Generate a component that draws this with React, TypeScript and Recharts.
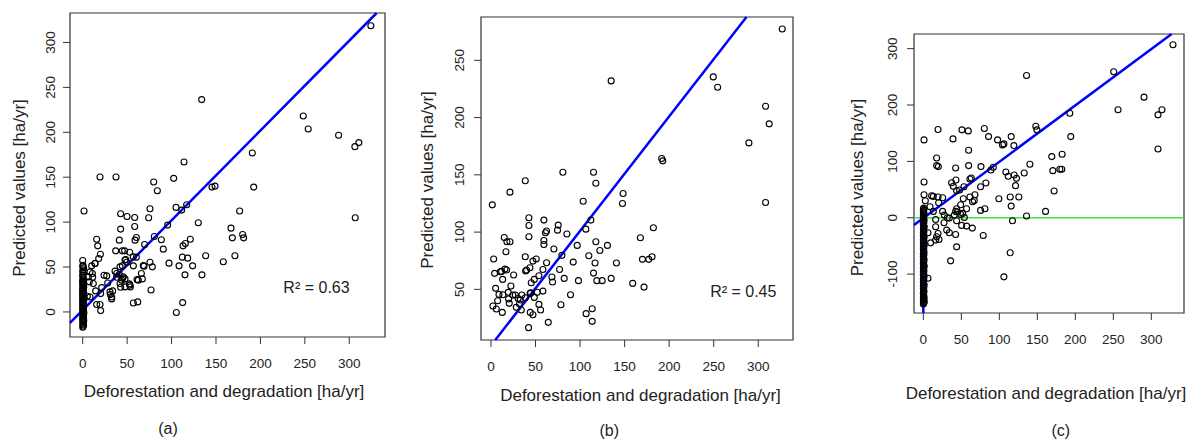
import React from 'react';
import { ScatterChart, Scatter, XAxis, YAxis, ReferenceLine, ReferenceArea } from 'recharts';

const FONT = '"Liberation Sans", Arial, sans-serif';

const obsA: [number, number][] = [
  [324.3, 318.6], [133.9, 236.4], [248.2, 218.2], [253.8, 203.7], [288, 196.7], [306.3, 184], [310.8, 188.5], [306.7, 104.8],
  [190.9, 177], [192.4, 139], [176.6, 112.3], [166.9, 93.3], [168.4, 82.5], [180, 86.2], [181.1, 82.5], [171.3, 62.5], [158.2, 55.8],
  [138.4, 62.5], [134.2, 41.3], [130.1, 99.3], [114, 166.9], [102.4, 148.7], [145.5, 139], [148.9, 140.1], [117, 119.3], [111.4, 113.4],
  [105, 116.4], [121.1, 81], [115.5, 76.2], [112.9, 73.6], [112.1, 61], [118.1, 59.9], [123.7, 51.3], [108.4, 51.3], [115.1, 41.3],
  [97.1, 54.3], [112.5, 10.4], [105.4, -0.7], [95.6, 96.7], [90.7, 69.9], [88.5, 80.3], [79.9, 144.6], [84, 134.9], [80.6, 84],
  [75.7, 114.9], [74.2, 104.8], [69.7, 75.1], [75.7, 55.4], [78.4, 50.2], [76.9, 24.5], [68.2, 51.7], [66, 42.8], [67.1, 36.8],
  [61.1, 36.1], [58.5, 105.2], [58.5, 95.2], [60.4, 82.9], [58.9, 79.9], [60.4, 61], [57, 51.3], [61.9, 11.2], [57, 10],
  [49.9, 106.3], [42.7, 109.3], [42.7, 92.2], [41.2, 79.9], [47.2, 68], [44.6, 68], [37.1, 68], [52.9, 66.5], [48.4, 58.4],
  [49.5, 55.4], [44.6, 51.3], [36.4, 45.4], [38.2, 38.7], [41.2, 41.6], [44.9, 37.9], [47.6, 36.8], [52.5, 31.2], [53.6, 27.9],
  [42.7, 27.5], [37.5, 150.2], [19.5, 150.2], [15.7, 81], [16.9, 73.6], [19.9, 64.3], [18, 59.5], [13.9, 53.9], [10.1, 51.3],
  [10.9, 42.8], [11.2, 38.7], [7.5, 33.5], [5.2, 17.5], [14.6, 23.4], [20.2, 20.4], [15.7, 8.2], [19.5, 8.2], [20.2, 1.5],
  [24, 40.9], [27, 40.1], [28.1, 32.3], [31.1, 19.3], [33.7, 23.4], [32.6, 14.5], [21.4, 27.1], [1.5, 112.3],
  [38.2, 42.8], [43.9, 35.4], [45.7, 39.1], [42, 31.7], [47.6, 27.9], [53.2, 29.8], [62.6, 35.4], [30.7, 22.3], [32.6, 16.7],
  [42, 50.2], [47.6, 57.7], [56.9, 61.3], [69, 51], [8.2, 44.6], [11.9, 31.7], [8.2, 16.7], [6.4, 39], [13.8, 54],
];
const zerosA: [number, number][] = [
  [0, -17], [0.5, -16], [1, -14.5], [0, -13.5], [0.8, -12], [0.2, -11], [1.2, -9.5], [0, -8.5], [0.6, -7], [0, -6],
  [1, -4.5], [0.3, -3.5], [0, -2], [1.4, -1], [0.5, 0.5], [0, 1.5], [0.9, 3], [0.2, 4], [0, 5.5], [1.1, 6.5], [0.4, 8],
  [0, 9], [0.7, 10.5], [0, 11.5], [1.3, 13], [0.2, 14], [0, 15.5], [0.8, 16.5], [0, 18], [0.5, 19], [0, 20.5], [1, 21.5],
  [0.3, 23], [0, 24], [0.7, 25.5], [0, 26.5], [1.2, 28], [0.4, 29], [0, 30.5], [0.9, 31.5], [0, 33], [0.5, 34], [0, 35.5],
  [1.1, 37], [0.2, 39], [0, 41], [0.8, 43], [0, 45], [0.4, 47], [1, 49], [0, 50.5], [0.3, 52], [0, 57.2],
];

const obsB: [number, number][] = [
  [326.9, 277.3], [134.9, 232], [249.5, 235.5], [254.4, 226.5], [308.2, 209.9], [312.3, 194.5], [289.5, 177.9], [308.2, 125.9],
  [191.6, 164.2], [192.8, 162.2], [148.3, 133.7], [147.6, 125], [115.1, 152.3], [117.7, 142.7], [103.5, 127], [80.7, 152.3],
  [38.5, 144.8], [21.3, 134.9], [1.5, 123.8], [112.1, 110.5], [106.5, 102.6], [117.7, 91.6], [122.2, 84], [130.7, 88.4],
  [109.8, 79.4], [116.8, 73], [140.8, 73], [115.1, 64.2], [118.8, 57.6], [124.8, 57.6], [134.9, 59.6], [167.7, 95.1],
  [182.3, 103.8], [170, 76.2], [177.1, 76.2], [180.8, 78.5], [159.1, 55.2], [171.8, 52], [113.6, 33.1], [113.6, 22.1],
  [106.8, 28.8], [96.8, 88.4], [85.2, 98.3], [92.3, 73.8], [98.2, 57.6], [89.3, 45.3], [82.2, 59.6], [79.6, 79.7], [77, 67.4],
  [78.5, 36.6], [75.5, 106.1], [74.7, 101.7], [70.6, 85.2], [68.4, 60.8], [69.1, 56.4], [64.3, 21.2], [62.4, 100.9], [61.2, 99.4],
  [59.4, 110.5], [59.4, 92.7], [59.4, 89.2], [62.4, 73.3], [58.3, 67.4], [53.8, 61.9], [58.3, 48.5], [55.7, 32], [53.8, 36.9],
  [50.8, 76.5], [47.1, 74.7], [48.6, 58.7], [45.2, 55.8], [48.6, 43], [44.5, 47.1], [47.1, 27.9], [44.1, 29.9], [42.2, 16.6],
  [42.6, 112.5], [42.6, 105.8], [42.6, 95.9], [38.5, 78.5], [40, 66.9], [38.9, 66], [43.7, 68.9], [38.5, 42.7], [34.7, 45.1],
  [32.9, 40.7], [32.1, 37.2], [34, 32], [27.3, 45.1], [28.4, 34.3], [25.4, 62.5], [20.5, 37.8], [19.8, 41.6], [19.4, 47.4],
  [22.4, 52.9], [17.6, 66.9], [15.7, 67.7], [11.9, 65.7], [10.5, 65.4], [16.8, 82.8], [14.9, 95.3], [17.9, 91.6], [21.3, 91.6],
  [13.1, 58.7], [3, 76.5], [4.1, 64], [5.2, 50.9], [9, 45.6], [7.5, 40.1], [2.2, 35.5], [6, 32.8], [12.7, 29.9], [13.4, 45.3],
  [44, 46.5], [52, 47.5], [24.5, 45], [30.5, 42],
];

const obsC: [number, number][] = [
  [328.5, 307], [135.8, 252.5], [250.5, 259], [256.2, 191.5], [290.4, 214], [308.8, 182.6], [314, 191.5], [308.8, 122.1],
  [192.7, 185.5], [194, 144], [169, 108.5], [182.6, 112.6], [179.6, 86], [182.2, 86], [170.4, 83.6], [172.1, 47.4], [160.8, 11.3],
  [148, 162.4], [149.4, 155.9], [135.8, 3], [140.2, 94.8], [132.7, 79.4], [119.1, 128], [115.6, 144], [106, 131], [104.2, 129.2],
  [97.7, 138.1], [85.8, 144], [80.2, 158.3], [88.9, 84.8], [92, 89.5], [108.6, 81.2], [111.7, 73.5], [119.6, 75.9], [121.3, 56.9],
  [122.6, 69.9], [125.7, 36.8], [114.3, 36.8], [115.6, 20.7], [117.3, -5.3], [114.3, -62.2], [106, -104.9], [99.4, 33.8],
  [82.3, 61.6], [75.3, 55.1], [75.8, 90.7], [81, 16], [78.8, -31.4], [75.3, 13], [67.9, 40.9], [67, 30.8], [61.3, 68.8],
  [63.1, 70.5], [59.6, 92.5], [59.6, 119.7], [59.1, 154.1], [50.8, 155.9], [39, 139.9], [19.3, 156.5], [0.9, 138.1], [0.9, 63.4],
  [17.5, 106.1], [17.5, 92.5], [19.7, 90.7], [42.5, 88.3], [42.9, 67], [37.2, 62.2], [39.4, 55.7], [43.8, 48], [47.7, 49.2],
  [53.4, 55.1], [52.6, 33.8], [49.1, 23.1], [42.5, 11.3], [43.8, 16], [56.9, 16], [61.3, 36.8], [64.8, 28.5], [51.7, 7.7],
  [53.9, 0.6], [45.1, 10.1], [49.1, 5.9], [40.7, 4.7], [43.8, -5.3], [50.4, -13.6], [56.9, -14.8], [64.4, -18.4], [42.5, -29.6],
  [43.8, -51.6], [35.9, -76.5], [31.5, 0], [27.2, -8.9], [30.7, -21.9], [34.2, -26.7], [27.6, 4.7], [34.2, -0.6], [25.4, 35.6],
  [19.3, 36.8], [10.9, 39.1], [13.1, 37.9], [0.9, 40.9], [2.6, 30.2], [8.8, 19.6], [13.1, 11.3], [20.1, 26.7], [25.4, 11.3],
  [16.2, -3], [16.2, -16], [19.3, -27.9], [17.5, -33.8], [20.6, -38.5], [9.6, -44.5], [16.2, -39.7], [6.1, -26.7], [6.1, -107.3],
];
const zerosC: [number, number][] = [
  [0, -153], [0.6, -151], [1.2, -149], [0, -147], [0.4, -145], [1, -143], [0, -141], [0.7, -139], [0.2, -136], [0, -134],
  [0.9, -131], [0.3, -129], [0, -126], [0.6, -124], [0, -121], [1.1, -119], [0.2, -116], [0, -114], [0.7, -111], [0, -109],
  [0.4, -106], [1, -104], [0, -101], [0.5, -99], [0, -96], [0.8, -94], [0.2, -91], [0, -89], [1.2, -86], [0.3, -84], [0, -81],
  [0.6, -79], [0, -76], [1, -74], [0.2, -71], [0, -69], [0.7, -66], [0, -64], [0.9, -61], [0.3, -59], [0, -56], [0.6, -54],
  [0, -51], [1.1, -49], [0.2, -46], [0, -44], [0.7, -41], [0, -39], [0.4, -36], [1, -34], [0, -31], [0.5, -29], [0, -26],
  [0.8, -24], [0.2, -21], [0, -19], [1.2, -16], [0.3, -14], [0, -11], [0.6, -9], [0, -6], [1, -4], [0.2, -1], [0, 1],
  [0.7, 3], [0, 5], [0.9, 7], [0.3, 9], [0, 11], [0.6, 13], [0, 15], [0.4, 17],
];

// fitted regression lines: [slope, intercept]
const fitA = [1.0, 2];
const fitB = [1.0, 1];
const fitC = [1.0, -0.7];

const xTicks = [0, 50, 100, 150, 200, 250, 300];
const yTicksA = [0, 50, 100, 150, 200, 250, 300];
const yTicksB = [50, 100, 150, 200, 250];
const yTicksC = [-100, 0, 100, 200, 300];

const toPts = (arr: [number, number][]) => arr.map(([x, y]) => ({ x, y }));

const Ring = (p: any) => <circle cx={p.cx} cy={p.cy} r={3} fill="none" stroke="#000" strokeWidth={1.1} />;

function clipFit(fit: number[], xd: number[], yd: number[]) {
  const [m, b] = fit;
  const x1 = Math.max(xd[0], (yd[0] - b) / m);
  const x2 = Math.min(xd[1], (yd[1] - b) / m);
  return [{ x: x1, y: m * x1 + b }, { x: x2, y: m * x2 + b }];
}

function YTick(props: any) {
  const { x, y, payload } = props;
  return (
    <text x={x} y={y} transform={`rotate(-90 ${x} ${y})`} textAnchor="middle"
      fontSize={13.5} fill="#222" fontFamily={FONT}>{payload.value}</text>
  );
}

interface PanelProps {
  left: number; width: number;
  margin: { top: number; right: number; bottom: number; left: number };
  xd: number[]; yd: number[]; yTicks: number[]; yTickMargin: number;
  pts: [number, number][]; zeros?: [number, number][]; fit: number[];
  zeroLine?: boolean; verticalFit?: boolean;
}

function Panel(p: PanelProps) {
  const seg = clipFit(p.fit, p.xd, p.yd);
  return (
    <div style={{ position: 'absolute', left: p.left, top: 0 }}>
      <ScatterChart width={p.width} height={439} margin={p.margin}>
        <XAxis type="number" dataKey="x" domain={p.xd} ticks={xTicks} allowDataOverflow
          axisLine={false} tickLine={{ stroke: '#333' }} tickSize={7} tickMargin={14} height={30}
          tick={{ fontSize: 13.5, fill: '#222', fontFamily: FONT }} />
        <YAxis type="number" dataKey="y" domain={p.yd} ticks={p.yTicks} allowDataOverflow
          axisLine={false} tickLine={{ stroke: '#333' }} tickSize={7} tickMargin={p.yTickMargin} width={50}
          tick={<YTick />} />
        <ReferenceArea x1={p.xd[0]} x2={p.xd[1]} y1={p.yd[0]} y2={p.yd[1]} fill="none" stroke="#333"
          strokeWidth={1.2} ifOverflow="visible" />
        {p.zeroLine && <ReferenceLine y={0} stroke="#44e044" strokeWidth={1.5} />}
        <Scatter data={toPts(p.pts)} shape={Ring} isAnimationActive={false} />
        {p.zeros && <Scatter data={toPts(p.zeros)} shape={Ring} isAnimationActive={false} />}
        {p.verticalFit && (
          <ReferenceLine segment={[{ x: 0, y: p.yd[0] }, { x: 0, y: p.fit[1] }]} stroke="#0000ff"
            strokeWidth={2.5} ifOverflow="visible" />
        )}
        <ReferenceLine segment={seg} stroke="#0000ff" strokeWidth={2.5} ifOverflow="visible" />
      </ScatterChart>
    </div>
  );
}

const txt = { fontFamily: FONT, fill: '#222' };

export default function App() {
  return (
    <div style={{ position: 'absolute', left: 0, top: 0, width: 1192, height: 439, background: '#fff', overflow: 'hidden' }}>
      <Panel left={0} width={400} margin={{ top: 13, right: 15, bottom: 72, left: 20 }}
        xd={[-14.3, 340.2]} yd={[-27.9, 332.8]} yTicks={yTicksA} yTickMargin={8}
        pts={obsA} zeros={zerosA} fit={fitA} />
      <Panel left={400} width={400} margin={{ top: 17, right: 7, bottom: 69, left: 31 }}
        xd={[-11.2, 339]} yd={[5.8, 287.8]} yTicks={yTicksB} yTickMargin={10}
        pts={obsB} fit={fitB} />
      <Panel left={800} width={392} margin={{ top: 34, right: 8, bottom: 96, left: 64 }}
        xd={[-12.3, 343]} yd={[-169, 326]} yTicks={yTicksC} yTickMargin={10}
        pts={obsC} zeros={zerosC} fit={fitC} zeroLine verticalFit />
      <svg width={1192} height={439} style={{ position: 'absolute', left: 0, top: 0, pointerEvents: 'none' }}>
        <g {...txt} fontSize={17} textAnchor="middle" dominantBaseline="central">
          <text x={224} y={391}>Deforestation and degradation [ha/yr]</text>
          <text x={19} y={188} transform="rotate(-90 19 188)">Predicted values [ha/yr]</text>
          <text x={640.5} y={395}>Deforestation and degradation [ha/yr]</text>
          <text x={427.5} y={180} transform="rotate(-90 427.5 180)">Predicted values [ha/yr]</text>
          <text x={1046} y={393}>Deforestation and degradation [ha/yr]</text>
          <text x={857.7} y={187.5} transform="rotate(-90 857.7 187.5)">Predicted values [ha/yr]</text>
        </g>
        <g {...txt} fontSize={16} textAnchor="middle" dominantBaseline="central">
          <text x={316.5} y={287}>R² = 0.63</text>
          <text x={743.3} y={291}>R² = 0.45</text>
          <text x={168} y={428}>(a)</text>
          <text x={609.3} y={430}>(b)</text>
          <text x={1060.8} y={430}>(c)</text>
        </g>
      </svg>
    </div>
  );
}
